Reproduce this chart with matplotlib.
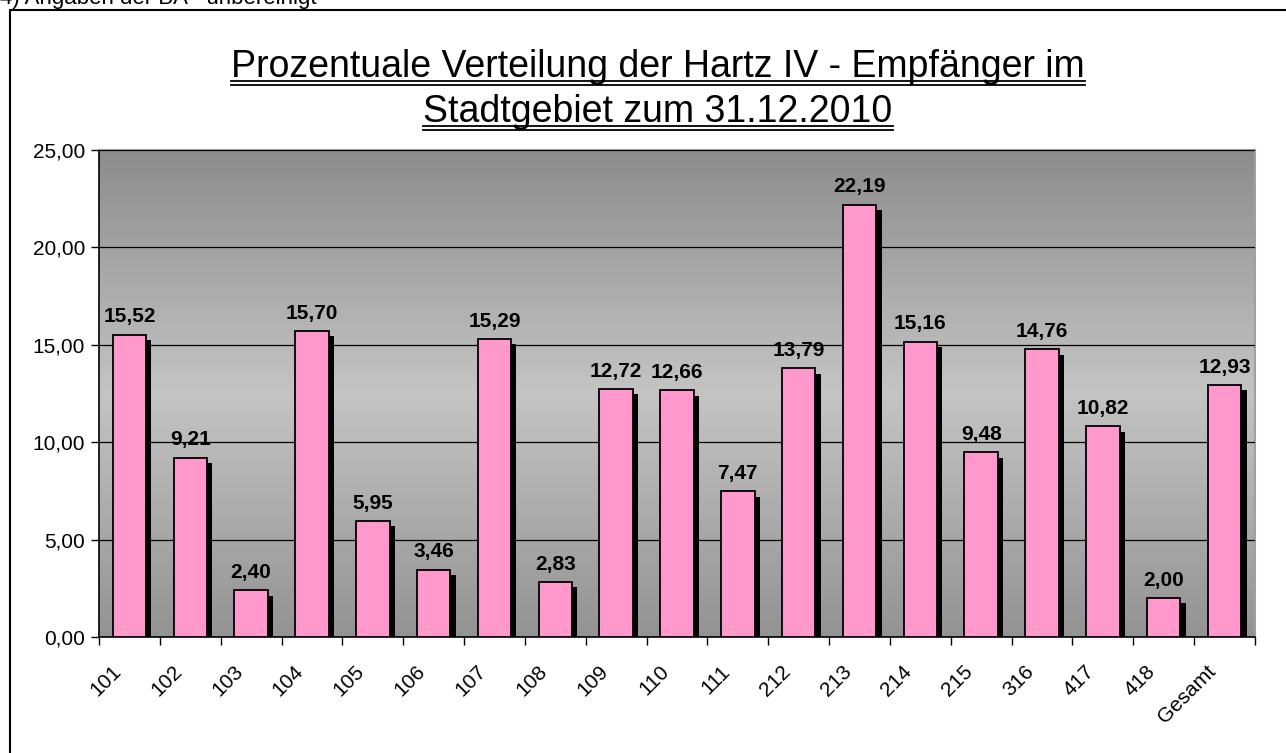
import matplotlib
matplotlib.use("Agg")
import matplotlib.pyplot as plt
import matplotlib.patheffects as pe
import matplotlib.transforms as mtrans
from matplotlib.lines import Line2D
from matplotlib.patches import Rectangle
import numpy as np

plt.rcParams['font.family'] = ['Liberation Sans', 'DejaVu Sans']

bezirke = ["101", "102", "103", "104", "105", "106", "107", "108", "109", "110",
           "111", "212", "213", "214", "215", "316", "417", "418", "Gesamt"]
anteil = [15.52, 9.21, 2.40, 15.70, 5.95, 3.46, 15.29, 2.83, 12.72, 12.66,
          7.47, 13.79, 22.19, 15.16, 9.48, 14.76, 10.82, 2.00, 12.93]
y_ticks = [0, 5, 10, 15, 20, 25]
titel = ["Prozentuale Verteilung der Hartz IV - Empfänger im",
         "Stadtgebiet zum 31.12.2010"]
fussnote = "4) Angaben der BA - unbereinigt"

W, H = 1286, 753
fig = plt.figure(figsize=(W / 100, H / 100), dpi=100)
ax = fig.add_axes([99 / W, 1 - 637 / H, (1255 - 99) / W, (637 - 150) / H])

n = len(bezirke)
x = np.arange(n)

# background gradient (dark top, light middle, dark bottom)
stops = np.array([0.0, 0.5, 1.0])
cols = np.array([0x8c, 0xc4, 0x93]) / 255
t = np.linspace(0, 1, 256)
g = np.interp(t, stops, cols)
grad = np.stack([g, g, g], axis=-1)[:, None, :]
ax.imshow(grad, extent=(-0.5, n - 0.5, 0, 25), aspect='auto', zorder=0)

bars = ax.bar(x, anteil, width=0.55, color='#ff99cc', edgecolor='black',
              linewidth=1.3, zorder=3)
for b in bars:
    b.set_path_effects([pe.SimplePatchShadow(offset=(3.8, -3.8),
                                             shadow_rgbFace='black', alpha=1),
                        pe.Normal()])

for xi, v in zip(x, anteil):
    ax.annotate(f"{v:.2f}".replace('.', ','), (xi, v), xytext=(0, 6),
                textcoords='offset points', ha='center', va='bottom',
                fontsize=15, fontweight='bold', zorder=4)

ax.set_xlim(-0.5, n - 0.5)
ax.set_ylim(0, 25)
ax.set_yticks(y_ticks)
ax.set_yticklabels([f"{v:.2f}".replace('.', ',') for v in y_ticks], fontsize=15)
ax.tick_params(axis='y', direction='out', length=6, width=1, pad=4)
ax.yaxis.grid(True, color='black', linewidth=0.9, zorder=1)
ax.set_axisbelow(False)

ax.set_xticks(np.arange(n + 1) - 0.5)
ax.set_xticklabels([])
ax.set_xticks(x, minor=True)
ax.set_xticklabels(bezirke, minor=True, rotation=45, ha='right',
                   rotation_mode='anchor', fontsize=15)
ax.tick_params(axis='x', which='major', direction='out', length=6, width=1)
ax.tick_params(axis='x', which='minor', length=0, pad=18)
shift = mtrans.ScaledTranslation(-0.18, 0, fig.dpi_scale_trans)
for lab in ax.get_xticklabels(minor=True):
    lab.set_transform(lab.get_transform() + shift)

for s in ['left', 'bottom']:
    ax.spines[s].set_color('black')
    ax.spines[s].set_linewidth(1.2)
for s in ['top', 'right']:
    ax.spines[s].set_color('#a0a0a0')
    ax.spines[s].set_linewidth(1.5)

# outer frame
fig.patches.append(Rectangle((10 / W, -0.05), 1.1, 1 - 10 / H + 0.05,
                             transform=fig.transFigure, fill=False,
                             edgecolor='black', linewidth=1.5))

fig.text(0, 1 - 4 / H, fussnote, fontsize=16, va='baseline', ha='left')

# title with double underline
cx = 658 / W
texts = [fig.text(cx, 1 - 77 / H, titel[0], fontsize=27, ha='center', va='baseline'),
         fig.text(cx, 1 - 122 / H, titel[1], fontsize=27, ha='center', va='baseline')]
fig.canvas.draw()
r = fig.canvas.get_renderer()
for tx, base in zip(texts, [77, 122]):
    bb = tx.get_window_extent(r)
    x0, x1 = bb.x0 / W, bb.x1 / W
    for dy in (4, 7.5):
        yy = 1 - (base + dy) / H
        fig.add_artist(Line2D([x0, x1], [yy, yy], color='black', linewidth=1.3,
                              transform=fig.transFigure))

fig.savefig("out.png", dpi=100)
